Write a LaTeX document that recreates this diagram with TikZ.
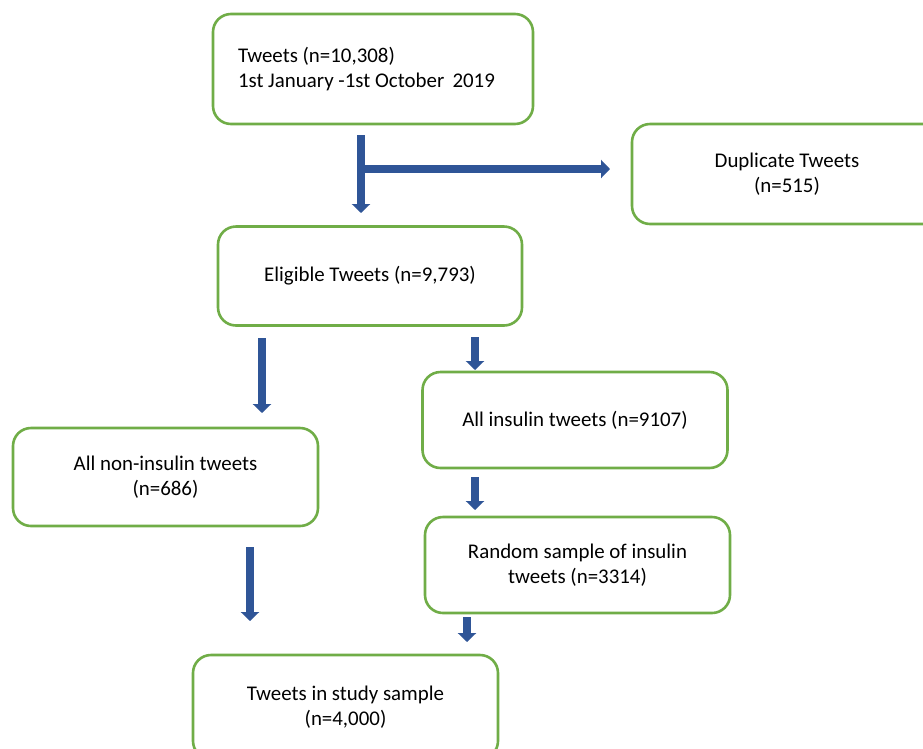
\documentclass[tikz,border=0pt]{standalone}
\usepackage{fontspec}
\setmainfont{Carlito}
\usetikzlibrary{arrows.meta}
\definecolor{boxgreen}{RGB}{112,173,71}
\definecolor{arrowblue}{RGB}{47,85,151}
\begin{document}
\begin{tikzpicture}[x=1pt,y=-1pt,
    flowbox/.style={draw=boxgreen, line width=2.6pt, rounded corners=18pt, fill=white, align=center, inner sep=0pt, minimum width=305pt, minimum height=98pt, font=\fontsize{20.9}{25}\selectfont},
    flowarrow/.style={draw=arrowblue, line width=8pt, -{Triangle[width=18pt,length=9pt]}}]
    \useasboundingbox (0,0) rectangle (923,748);
    \clip (0,0) rectangle (923,748);
    \node[flowbox, minimum width=320pt, minimum height=110pt, text width=270pt, align=flush left] (tweets) at (373,69) {Tweets (n=10,308)\\1st January -1st October\, 2019};
    \node[flowbox, minimum width=310pt, minimum height=100pt] (duplicate) at (787,174) {Duplicate Tweets\\(n=515)};
    \node[flowbox, minimum width=304pt, minimum height=99pt] (eligible) at (370,276) {Eligible Tweets (n=9,793)};
    \node[flowbox, minimum height=96pt] (insulin) at (575,420) {All insulin tweets (n=9107)};
    \node[flowbox] (noninsulin) at (165.5,477) {All non-insulin tweets\\(n=686)};
    \node[flowbox, minimum height=96pt] (random) at (577.5,565) {Random sample of insulin\\tweets (n=3314)};
    \node[flowbox, minimum height=104pt] (study) at (345.5,707) {Tweets in study sample\\(n=4,000)};
    \coordinate (splittop) at (361,135);
    \coordinate (splitmid) at (361,169);
    \coordinate (splitend) at (361,213);
    \coordinate (dupend) at (610,169);
    \coordinate (nontop) at (262,338);
    \coordinate (nonend) at (262,413);
    \coordinate (instop) at (475,337);
    \coordinate (insend) at (475,370);
    \coordinate (randtop) at (475,477);
    \coordinate (randend) at (475,510);
    \coordinate (lefttop) at (250,547);
    \coordinate (leftend) at (250,621);
    \coordinate (righttop) at (467,617);
    \coordinate (rightend) at (467,642);
    \draw[flowarrow] (splitmid) -- (dupend);
    \draw[flowarrow] (splittop) -- (splitend);
    \draw[flowarrow] (nontop) -- (nonend);
    \draw[flowarrow] (instop) -- (insend);
    \draw[flowarrow] (randtop) -- (randend);
    \draw[flowarrow] (lefttop) -- (leftend);
    \draw[flowarrow] (righttop) -- (rightend);
\end{tikzpicture}
\end{document}
